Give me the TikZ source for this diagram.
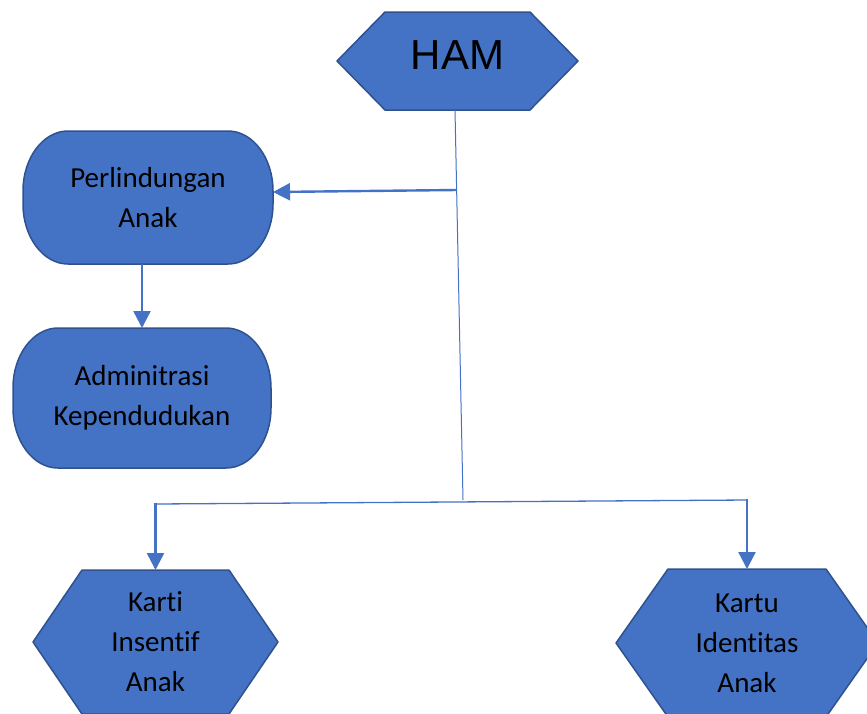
\documentclass[tikz,border=0pt]{standalone}
\usepackage{fontspec}
\setmainfont[Ligatures=NoCommon,RawFeature={-liga;-clig;-dlig}]{Carlito}
\newfontfamily\hamfont{Liberation Sans}
\usetikzlibrary{arrows.meta,backgrounds}
\definecolor{fillblue}{HTML}{4472C4}
\definecolor{edgeblue}{HTML}{2F528F}
\definecolor{lineblue}{HTML}{4472C4}
\begin{document}
\begin{tikzpicture}[x=1pt,y=1pt,
  box/.style={inner sep=0pt,outer sep=0pt,align=center,text=black,font=\fontsize{29}{40}\selectfont},
  shapefill/.style={fill=fillblue,draw=edgeblue,line width=1.5pt,line join=round},
  wire/.style={draw=lineblue,line width=1pt},
  arrowline/.style={draw=lineblue,line width=2.4pt,-{Triangle[length=17pt,width=17pt]}}
]
\useasboundingbox (0,0) rectangle (867,-713);

% nodes (text, sized to the shapes' bounding boxes)
\node[box,minimum width=241pt,minimum height=98pt,font=\hamfont\fontsize{42}{48}\selectfont] (ham) at (457.5,-61) {\raisebox{5.5pt}[\height][\depth]{HAM}};
\node[box,minimum width=250pt,minimum height=133pt] (perl) at (148,-197.5) {Perlindungan\\Anak};
\node[box,minimum width=258pt,minimum height=140pt] (adm) at (142,-398) {Adminitrasi\\Kependudukan};
\node[box,minimum width=245pt,minimum height=144pt] (karti) at (155.5,-642) {Karti\\Insentif\\Anak};
\node[box,minimum width=262pt,minimum height=148pt] (kartu) at (747,-643) {Kartu\\Identitas\\Anak};

\begin{scope}[on background layer]
  % hexagons
  \path[shapefill] (ham.west) -- ([xshift=48pt]ham.north west) -- ([xshift=-48pt]ham.north east)
    -- (ham.east) -- ([xshift=-48pt]ham.south east) -- ([xshift=48pt]ham.south west) -- cycle;
  \path[shapefill] (karti.west) -- ([xshift=49pt]karti.north west) -- ([xshift=-49pt]karti.north east)
    -- (karti.east) -- ([xshift=-49pt]karti.south east) -- ([xshift=49pt]karti.south west) -- cycle;
  \path[shapefill] (kartu.west) -- ([xshift=52pt]kartu.north west) -- ([xshift=-52pt]kartu.north east)
    -- (kartu.east) -- ([xshift=-52pt]kartu.south east) -- ([xshift=52pt]kartu.south west) -- cycle;
  % rounded boxes
  \foreach \n in {perl,adm}{
    \path[shapefill] ([xshift=45pt]\n.north west) -- ([xshift=-45pt]\n.north east)
      arc[start angle=90,end angle=0,x radius=45pt,y radius=60pt]
      -- ([yshift=60pt]\n.south east)
      arc[start angle=0,end angle=-90,x radius=45pt,y radius=60pt]
      -- ([xshift=45pt]\n.south west)
      arc[start angle=270,end angle=180,x radius=45pt,y radius=60pt]
      -- ([yshift=-60pt]\n.north west)
      arc[start angle=180,end angle=90,x radius=45pt,y radius=60pt]
      -- cycle;
  }
\end{scope}

% connectors
\coordinate (top) at (455,-110);
\coordinate (mid) at (456.6,-190);
\coordinate (jn) at (463,-500);
\coordinate (bl) at (155.5,-504);
\coordinate (br) at (747,-500);
\draw[wire] (top) -- (jn);
\draw[wire,line width=1.3pt] (bl) -- (br);
\draw[arrowline] (mid) -- ([yshift=5.5pt]perl.east);
\draw[arrowline] (perl.south -| adm.north) -- (adm.north);
\draw[arrowline] ([yshift=0.6pt]bl) -- (karti.north);
\draw[arrowline] ([yshift=0.6pt]br) -- (kartu.north);
\end{tikzpicture}
\end{document}
